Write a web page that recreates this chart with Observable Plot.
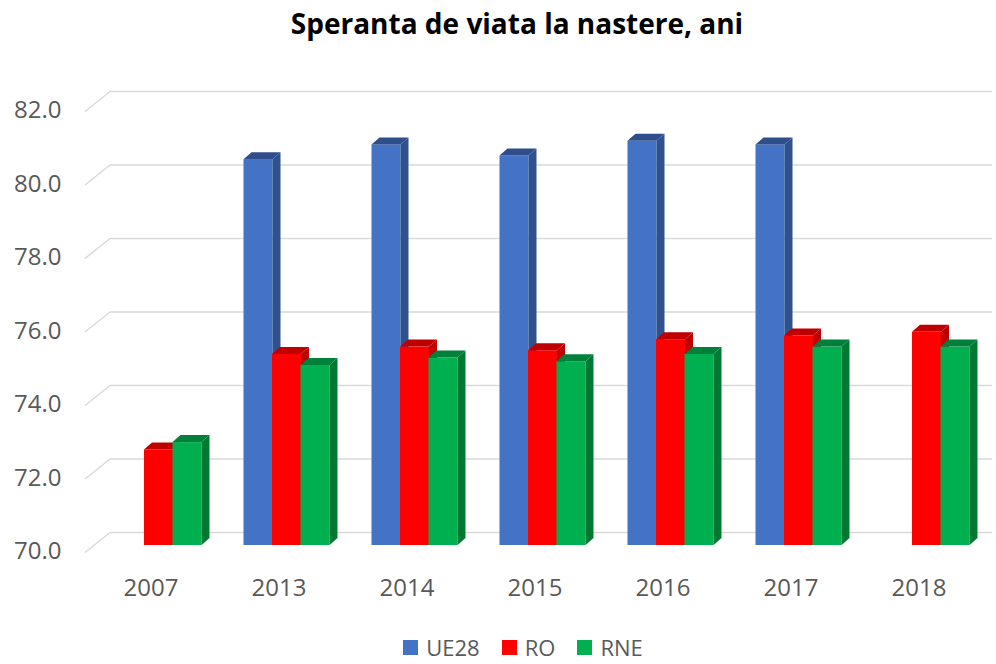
<!DOCTYPE html>
<html>
<head>
<meta charset="utf-8">
<script src="https://cdn.jsdelivr.net/npm/d3@7"></script>
<script src="https://cdn.jsdelivr.net/npm/@observablehq/plot@0.6"></script>
<style>
  body { margin: 0; background: #fff; font-family: "Open Sans", sans-serif; }
  #wrap { width: 996px; height: 664px; position: relative; overflow: hidden; }
  #title { height: 50px; line-height: 46px; text-align: center; padding-left: 38px; box-sizing: border-box;
           font-weight: bold; font-size: 28px; color: #000; white-space: nowrap; }
  #chart { height: 584px; }
  #legend { height: 34px; margin-top: -4px; display: flex; justify-content: center; align-items: center; padding-left: 50px;
            box-sizing: border-box; font-size: 22px; line-height: 30px; color: #595959; }
  #legend .item { display: flex; align-items: center; margin: 0 11px; }
  #legend .sw { width: 15px; height: 15px; margin-right: 8px; }
</style>
</head>
<body>
<div id="wrap">
  <div id="title">Speranta de viata la nastere, ani</div>
  <div id="chart"></div>
  <div id="legend"></div>
</div>
<script>
const years = ["2007", "2013", "2014", "2015", "2016", "2017", "2018"];
const series = ["UE28", "RO", "RNE"];
const ue28 = [null, 80.5, 80.9, 80.6, 81.0, 80.9, null];
const ro   = [72.6, 75.2, 75.4, 75.3, 75.6, 75.7, 75.8];
const rne  = [72.8, 74.9, 75.1, 75.0, 75.2, 75.4, 75.4];
const yTicks = [70, 72, 74, 76, 78, 80, 82];

const frontColors = ["#4472C4", "#FF0000", "#00B050"];
const sideColors  = ["#2F528F", "#C00000", "#007A33"];
const topColors   = ["#2E4F8C", "#C00000", "#00803A"];

const values = [ue28, ro, rne];
const tables = values.map((arr, si) =>
  years.map((year, i) => ({year, series: series[si], value: arr[i]})).filter(d => d.value != null)
);
const offsets = [-20.5, 8, 36.5];

const plot = Plot.plot({
  width: 996,
  height: 584,
  marginTop: 54,
  marginBottom: 89,
  marginLeft: 110,
  marginRight: 4,
  style: { fontFamily: "Open Sans, sans-serif", color: "#595959", background: "#fff", display: "block" },
  x: { type: "band", domain: years, range: [86, 982], paddingInner: 0.777, paddingOuter: 0.3885, label: null },
  y: { domain: [70, 82], label: null },
  marks: [
    Plot.ruleY(yTicks, { dy: -13, stroke: "#d9d9d9", strokeWidth: 1.5 }),
    ...tables.map((t, si) => Plot.barY(t, {
      x: "year", y1: 70, y2: "value", fill: frontColors[si], dx: offsets[si]
    })),
    Plot.axisY(yTicks, { tickSize: 0, tickPadding: 49, dy: 6, fontSize: 24, tickFormat: d => d.toFixed(1) }),
    Plot.axisX({ tickSize: 0, tickPadding: 33, fontSize: 24 })
  ]
});

document.getElementById("chart").appendChild(plot);

// 3D slants of gridlines (from scale positions)
const yScale = plot.scale("y");
const ruleG = plot.querySelector('g[aria-label="rule"]');
yTicks.forEach(v => {
  const Y = yScale.apply(v);
  d3.select(ruleG).append("line")
    .attr("x1", 85).attr("y1", Y + 20).attr("x2", 110).attr("y2", Y)
    .attr("stroke", "#d9d9d9").attr("stroke-width", 1.5);
});

// 3D faces of bars, derived from drawn rects
const depthX = 8, depthY = -7;
plot.querySelectorAll('g[aria-label="bar"]').forEach((g, si) => {
  const rects = Array.from(g.querySelectorAll("rect"));
  rects.forEach(r => {
    const x = +r.getAttribute("x"), y = +r.getAttribute("y");
    const w = +r.getAttribute("width"), h = +r.getAttribute("height");
    const sel = d3.select(g);
    sel.append("polygon")
      .attr("points", [[x + w, y], [x + w + depthX, y + depthY], [x + w + depthX, y + h + depthY], [x + w, y + h]].map(p => p.join(",")).join(" "))
      .attr("fill", sideColors[si]);
    sel.append("polygon")
      .attr("points", [[x, y], [x + depthX, y + depthY], [x + w + depthX, y + depthY], [x + w, y]].map(p => p.join(",")).join(" "))
      .attr("fill", topColors[si]);
  });
});

// legend
const legend = d3.select("#legend");
series.forEach((s, i) => {
  const item = legend.append("div").attr("class", "item");
  item.append("div").attr("class", "sw").style("background", frontColors[i]);
  item.append("span").text(s);
});
</script>
</body>
</html>
